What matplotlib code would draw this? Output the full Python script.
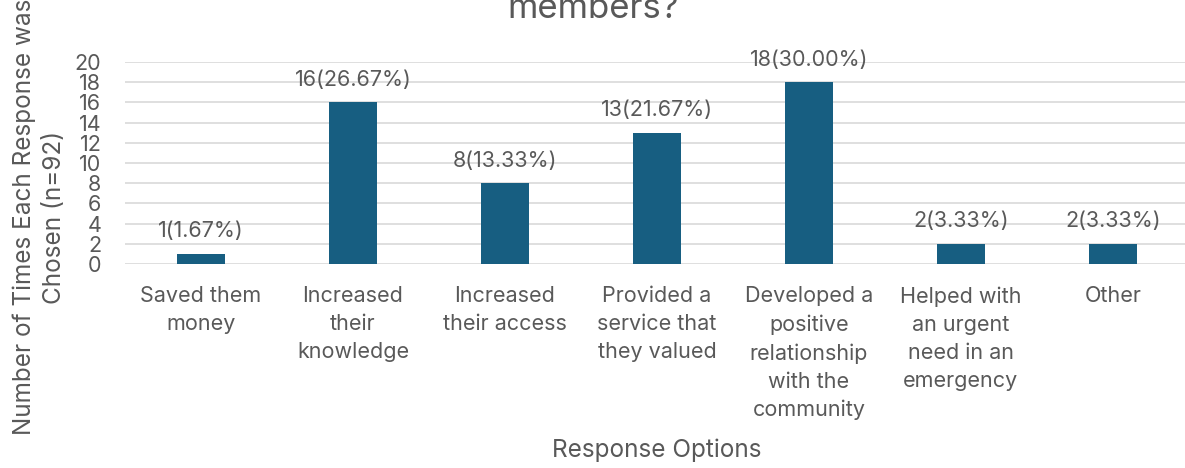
import numpy as np
import matplotlib
matplotlib.use("Agg")
import matplotlib.pyplot as plt

categories = ["Saved them\nmoney", "Increased\ntheir\nknowledge", "Increased\ntheir access",
              "Provided a\nservice that\nthey valued", "Developed a\npositive\nrelationship\nwith the\ncommunity",
              "Helped with\nan urgent\nneed in an\nemergency", "Other"]
counts = [1, 16, 8, 13, 18, 2, 2]
percents = [1.67, 26.67, 13.33, 21.67, 30.00, 3.33, 3.33]
yticks = list(range(0, 21, 2))

TXT = "#595959"
BAR = "#175E81"
FS = 15.5
FS_AX = 17.5

plt.rcParams["font.family"] = ["Inter", "DejaVu Sans"]

fig = plt.figure(figsize=(11.85, 4.68), dpi=100)
ax = fig.add_axes([125 / 1185, 1 - 264 / 468, 1064 / 1185, 202 / 468])

x = np.arange(len(categories))
ax.bar(x, counts, width=0.315, color=BAR, zorder=3)
for xi, c, p in zip(x, counts, percents):
    ax.annotate(f"{c}({p:.2f}%)", (xi, c), xytext=(0, 9), textcoords="offset points",
                ha="center", va="bottom", fontsize=FS, color=TXT)

ax.set_xlim(-0.5, len(categories) - 0.5)
ax.set_ylim(0, 20)
ax.set_yticks(yticks)
ax.grid(axis="y", color="#d9d9d9", linewidth=1.2, zorder=0)
for s in ax.spines.values():
    s.set_visible(False)
ax.tick_params(axis="both", length=0, labelsize=FS, colors=TXT)
ax.tick_params(axis="y", pad=17)
ax.tick_params(axis="x", pad=16)
ax.set_xticks(x)
ax.set_xticklabels(categories, linespacing=1.5)

fig.text(657 / 1185, 1 - 450 / 468, "Response Options", ha="center", va="center",
         fontsize=FS_AX, color=TXT)
fig.text(39 / 1185, 1 - 217 / 468, "Number of Times Each Response was\nChosen (n=92)",
         rotation=90, ha="center", va="center", fontsize=FS_AX, color=TXT, linespacing=1.4)
# title's first line is outside the frame in the source, only its tail shows
fig.text(593 / 1185, 1 - 18 / 468, "members?", ha="center", va="baseline",
         fontsize=25, color=TXT)

fig.savefig("out.png", dpi=100)
